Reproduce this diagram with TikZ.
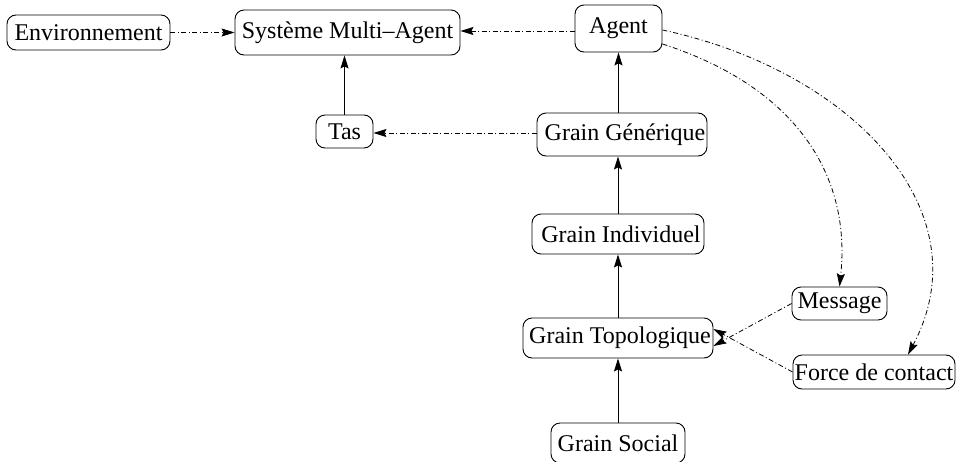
\documentclass[tikz,border=0pt]{standalone}
\usepackage{fontspec}
\setmainfont{Liberation Serif}
\usetikzlibrary{arrows.meta}
\begin{document}
\begin{tikzpicture}[x=1pt,y=-1pt,
  box/.style={draw,rounded corners=9pt,line width=0.9pt,inner sep=0pt,
    font=\fontsize{24}{26}\selectfont},
  tip/.style={-{Stealth[length=13pt,width=8pt,inset=2pt]}},
  link/.style={tip,line width=0.9pt},
  dashlink/.style={tip,line width=0.8pt,dash pattern=on 5pt off 2.5pt on 1pt off 2.5pt}]
\useasboundingbox (0,0) rectangle (956,461);

% classes
\node[box,minimum width=163pt,minimum height=35pt] (env) at (88.5,32.5) {Environnement};
\node[box,minimum width=225pt,minimum height=45pt] (sma) at (347.5,32.5) {Système Multi--Agent};
\node[box,minimum width=87pt,minimum height=47pt] (agent) at (618.5,28.5) {Agent};
\node[box,minimum width=57pt,minimum height=33pt] (tas) at (344.5,131.5) {Tas};
\node[box,minimum width=170pt,minimum height=43pt] (gg) at (622,134.5) {\hspace*{6pt}Grain Générique};
\node[box,minimum width=172pt,minimum height=40pt] (gi) at (618,234) {\hspace*{6pt}Grain Individuel};
\node[box,minimum width=190pt,minimum height=40pt] (gt) at (618,338) {\hspace*{4pt}Grain Topologique};
\node[box,minimum width=95pt,minimum height=33pt] (msg) at (839.5,303.5) {Message};
\node[box,minimum width=162pt,minimum height=34pt] (force) at (874,372) {Force de contact};
\node[box,minimum width=134pt,minimum height=40pt] (gs) at (618,443) {Grain Social};

% inheritance
\draw[link] (tas.north) -- (tas.north |- sma.south);
\draw[link] (gg.north -| agent) -- (agent.south);
\draw[link] (gi.north) -- (gi.north |- gg.south);
\draw[link] (gt.north) -- (gi.south);
\draw[link] (gs.north) -- (gt.south);

% associations
\draw[dashlink] (env.east) -- (sma.west);
\draw[dashlink] (agent.west |- 0,31) -- (sma.east |- 0,31);
\draw[dashlink] (gg.west |- 0,133) -- (tas.east |- 0,133);
\draw[dashlink] (msg.west) -- ([yshift=-8pt]gt.east);
\draw[dashlink] (force.west) -- ([yshift=9pt]gt.east);
\draw[dashlink] (agent.east |- 0,44) .. controls (790,85) and (852,170) .. (msg.north);
\draw[dashlink] (agent.east |- 0,30) .. controls (850,70) and (985,210) .. ([xshift=34pt]force.north);
\end{tikzpicture}
\end{document}
